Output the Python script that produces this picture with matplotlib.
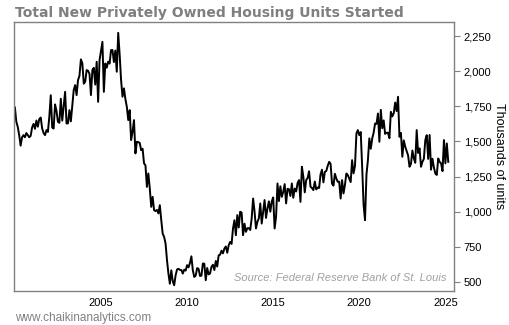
import numpy as np
import matplotlib
matplotlib.use("Agg")
import matplotlib.pyplot as plt
from matplotlib.ticker import FuncFormatter

# monthly housing starts, thousands of units (SAAR), Jan 2000 - Mar 2025
starts_by_year = {
    2000: [1742, 1640, 1604, 1545, 1470, 1530, 1545, 1530, 1560, 1545, 1530, 1540],
    2001: [1600, 1625, 1590, 1649, 1605, 1660, 1670, 1593, 1560, 1545, 1581, 1568],
    2002: [1676, 1829, 1600, 1592, 1764, 1717, 1640, 1633, 1804, 1648, 1753, 1853],
    2003: [1628, 1629, 1723, 1643, 1751, 1866, 1901, 1830, 1937, 1967, 2084, 2057],
    2004: [1911, 1925, 2008, 2003, 1981, 1830, 2008, 2024, 1905, 2067, 1782, 2079],
    2005: [2144, 2209, 1853, 2055, 2025, 2068, 2054, 2150, 2151, 2065, 2147, 1996],
    2006: [2273, 2119, 1937, 1818, 1878, 1802, 1747, 1652, 1723, 1510, 1570, 1652],
    2007: [1415, 1498, 1495, 1490, 1438, 1448, 1344, 1330, 1177, 1272, 1166, 1035],
    2008: [1106, 1011, 1005, 1013, 988, 1047, 940, 844, 821, 774, 655, 560],
    2009: [488, 583, 505, 477, 548, 589, 594, 586, 585, 560, 588, 581],
    2010: [620, 604, 636, 683, 583, 536, 546, 599, 594, 543, 545, 632],
    2011: [630, 513, 600, 554, 561, 608, 623, 585, 650, 610, 690, 694],
    2012: [723, 704, 738, 753, 708, 762, 785, 771, 881, 940, 833, 976],
    2013: [888, 1000, 994, 833, 915, 857, 883, 883, 870, 952, 1094, 1003],
    2014: [881, 928, 953, 1059, 916, 1000, 1083, 956, 1023, 1074, 1000, 1073],
    2015: [1102, 881, 964, 1201, 1076, 1181, 1106, 1141, 1197, 1059, 1163, 1160],
    2016: [1112, 1201, 1099, 1165, 1144, 1204, 1225, 1070, 1320, 1250, 1138, 1226],
    2017: [1240, 1288, 1178, 1169, 1154, 1215, 1159, 1172, 1169, 1266, 1299, 1209],
    2018: [1284, 1290, 1327, 1355, 1341, 1201, 1186, 1270, 1236, 1213, 1214, 1094],
    2019: [1225, 1130, 1191, 1272, 1261, 1237, 1211, 1367, 1273, 1326, 1557, 1581],
    2020: [1545, 1567, 1320, 1047, 940, 1265, 1367, 1522, 1448, 1521, 1562, 1628],
    2021: [1625, 1699, 1498, 1725, 1594, 1650, 1554, 1562, 1562, 1523, 1711, 1678],
    2022: [1700, 1777, 1716, 1818, 1533, 1561, 1391, 1508, 1463, 1432, 1401, 1320],
    2023: [1340, 1436, 1380, 1348, 1581, 1418, 1451, 1320, 1356, 1376, 1510, 1545],
    2024: [1376, 1546, 1299, 1377, 1315, 1272, 1262, 1379, 1355, 1344, 1289, 1510],
    2025: [1344, 1486, 1355],
}

y_ticks = [500, 750, 1000, 1250, 1500, 1750, 2000, 2250]
x_ticks = [2005, 2010, 2015, 2020, 2025]

plt.rcParams['font.family'] = ['Liberation Sans', 'DejaVu Sans']

values = []
dates = []
for year, months in starts_by_year.items():
    for i, v in enumerate(months):
        dates.append(year + i / 12.0)
        values.append(v)

fig = plt.figure(figsize=(5.1, 3.25), dpi=100)
ax = fig.add_axes([0.0275, 0.1046, 0.8627, 0.8277])

ax.plot(dates, values, color='black', linewidth=1.4)

ax.set_xlim(1999.95, 2025.5)
ax.set_ylim(436, 2350)

ax.yaxis.tick_right()
ax.yaxis.set_label_position('right')
ax.set_yticks(y_ticks)
ax.yaxis.set_major_formatter(FuncFormatter(lambda v, p: f'{int(v):,}'))
ax.set_xticks(x_ticks)
ax.tick_params(axis='y', length=4, width=0.8, color='#808080', labelsize=8, pad=3)
ax.tick_params(axis='x', length=0, labelsize=8, pad=5)
ax.set_ylabel('Thousands of units', rotation=270, fontsize=9, labelpad=10)

for s in ax.spines.values():
    s.set_color('#808080')
    s.set_linewidth(1.0)

ax.text(0.983, 0.03, 'Source: Federal Reserve Bank of St. Louis', transform=ax.transAxes,
        ha='right', va='bottom', fontsize=8, style='italic', color='#a0a0a0')

fig.text(0.029, 0.96, 'Total New Privately Owned Housing Units Started', ha='left', va='center',
         fontsize=10, fontweight='bold', color='#7f7f7f', family='DejaVu Sans')
fig.text(0.029, 0.022, 'www.chaikinanalytics.com', ha='left', va='center',
         fontsize=8.5, color='#808080')

plt.savefig('out.png', dpi=100)
